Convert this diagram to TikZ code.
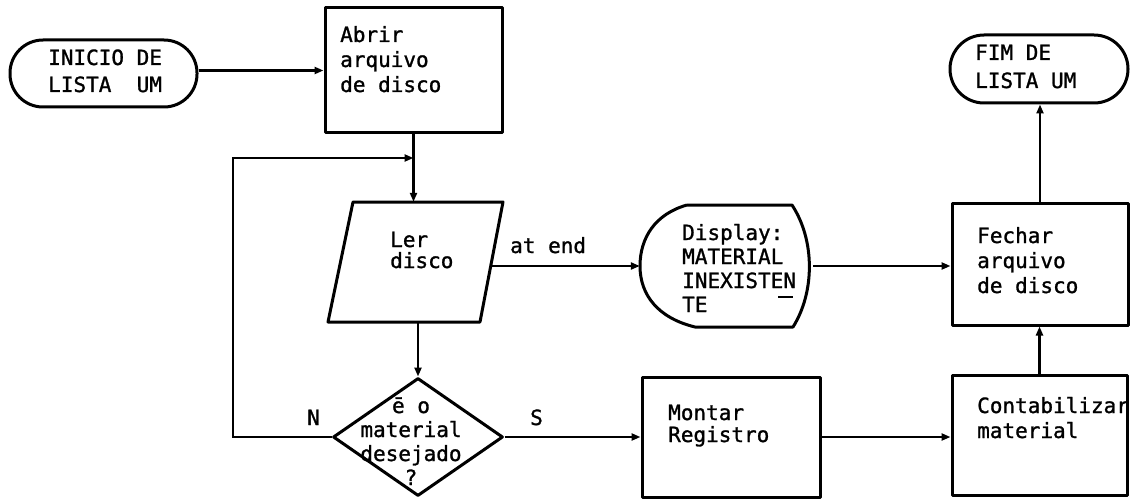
\documentclass[tikz,border=0pt]{standalone}
\usepackage{fontspec}
\newfontfamily\tw[FakeBold=1.2]{DejaVu Sans Mono}
\usetikzlibrary{arrows.meta,shapes.geometric}
\begin{document}
\begin{tikzpicture}[x=1pt,y=-1pt,
  shape line/.style={line width=3pt, line join=round},
  box/.style={draw, shape line, rectangle, inner sep=0pt},
  term/.style={box, rounded corners=33pt},
  ghost/.style={rectangle, draw=none, inner sep=0pt},
  conn/.style={line width=2.2pt, -{Triangle[length=9pt,width=7pt]}},
  plainline/.style={line width=2pt},
  txt/.style={anchor=base west, inner sep=0pt, align=left, font=\tw\fontsize{21}{#1}\selectfont},
  ctxt/.style={anchor=base, inner sep=0pt, align=center, font=\tw\fontsize{21}{#1}\selectfont},
]
\useasboundingbox (0,0) rectangle (1130,500);

% shapes
\node[term, minimum width=187pt, minimum height=67pt] (start) at (103.5,73.5) {};
\node[box, minimum width=177pt, minimum height=125pt] (abrir) at (413.5,70.5) {};
\node[ghost, minimum width=150pt, minimum height=120pt] (ler) at (415.5,262) {};
\draw[shape line] (353,202) -- (503,202) -- (480,322) -- (328,322) -- cycle;
\node[ghost, minimum width=173pt, minimum height=122pt] (disp) at (726.5,266) {};
\draw[shape line] (687,205) -- (792,205) .. controls (815,240) and (815,292) .. (793,327) -- (695,327) .. controls (658,318) and (640,295) .. (640,266) .. controls (640,238) and (655,214) .. (687,205);
\node[diamond, draw, shape line, minimum width=170pt, minimum height=118pt, inner sep=0pt] (dec) at (418,437) {};
\node[box, minimum width=178pt, minimum height=120pt] (montar) at (731,437) {};
\node[box, minimum width=176pt, minimum height=122pt] (fechar) at (1040,264) {};
\node[box, minimum width=175pt, minimum height=120pt] (contab) at (1039.5,435) {};
\node[term, minimum width=178pt, minimum height=68pt, rounded corners=34pt] (fim) at (1039,69) {};

% texts (anchor = baseline of the last line)
\node[txt=27] (tstart) at (48,92) {INICIO DE\\LISTA~~UM};
\node[txt=25] (tabrir) at (340,92) {Abrir\\arquivo\\de disco};
\node[txt=21] (tler) at (390,268) {Ler\\disco};
\node[txt=24] (tdisp) at (682,312) {Display:\\MATERIAL\\INEXISTEN\\TE};
\draw[plainline] (778,297) -- (793,297);
\node[ctxt=24] (tdec) at (411,485) {ē o\\material\\desejado\\?};
\node[txt=22] (tmontar) at (668,442) {Montar\\Registro};
\node[txt=25] (tfechar) at (977,293) {Fechar\\arquivo\\de disco};
\node[txt=25] (tcontab) at (977,438) {Contabilizar\\material};
\node[txt=28] (tfim) at (975,88) {FIM DE\\LISTA UM};
\node[txt=25] (latend) at (510,253) {at end};
\node[txt=25] (lN) at (307,425) {N};
\node[txt=25] (lS) at (530,425) {S};

% connectors
\coordinate (join) at (413.5,158);
\coordinate (loopc) at (233,158);
\coordinate (lerR) at (491,266);
\draw[conn] (start.east |- abrir.west) -- (abrir.west);
\draw[conn] (abrir.south) -- (abrir.south |- ler.north);
\draw[conn] (dec.west) -| (loopc) -- (join);
\draw[conn] (ler.south -| dec.north) -- (dec.north);
\draw[conn] (lerR) -- (disp.west);
\draw[conn] (disp.east) -- (disp.east -| fechar.west);
\draw[conn] (dec.east) -- (montar.west);
\draw[conn] (montar.east) -- (montar.east -| contab.west);
\draw[conn] (contab.north) -- (contab.north |- fechar.south);
\draw[conn] (fechar.north) -- (fechar.north |- fim.south);
\end{tikzpicture}
\end{document}
